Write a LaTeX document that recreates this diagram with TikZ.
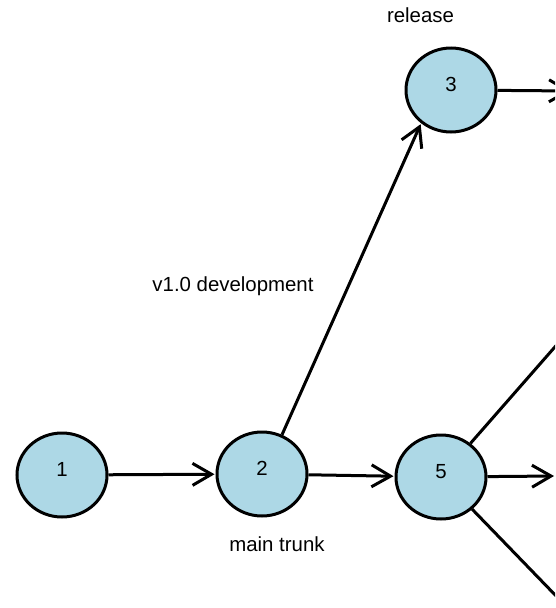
\documentclass[tikz,border=0pt]{standalone}
\usepackage{fontspec}
\setmainfont{Liberation Sans}
\usetikzlibrary{shapes.geometric,arrows.meta}
\definecolor{nodeblue}{RGB}{173,216,230}

\begin{document}
\begin{tikzpicture}[x=1pt,y=-1pt,->,>={Straight Barb[length=19pt,width=22pt]},line width=3pt,shorten >=1pt,
	main node/.style={ellipse,draw,fill=nodeblue,minimum width=90pt,minimum height=84pt,inner sep=0pt,text depth=11pt,font=\fontsize{20.4}{24}\selectfont},
	lbl/.style={font=\fontsize{20.4}{24}\selectfont}]
	
	\clip (0,0) rectangle (555,608);
	
	\node[main node] (N1) at (62,475) {1};
	\node[main node] (N2) at (262,474) {2};
	\node[main node] (N5) at (441,477) {5};
	\node[main node] (N3) at (451,90) {3};
	
	% targets outside the frame
	\coordinate (T3) at (572,91);
	\coordinate (T5) at (555,476);
	\coordinate (U5) at (610,284);
	\coordinate (D5) at (620,662);
	
	\node[lbl] (release) at (420.5,15.5) {release};
	\node[lbl] (dev) at (233,286) {v1.0 development};
	\node[lbl] (trunk) at (277,544) {main trunk};
	
	\path
	(N1) edge (N2)
	(N2) edge (N5)
	(N2.63) edge (N3.228)
	(N3) edge (T3)
	(N5) edge (T5)
	edge (U5)
	edge (D5)
	;
\end{tikzpicture}
\end{document}
